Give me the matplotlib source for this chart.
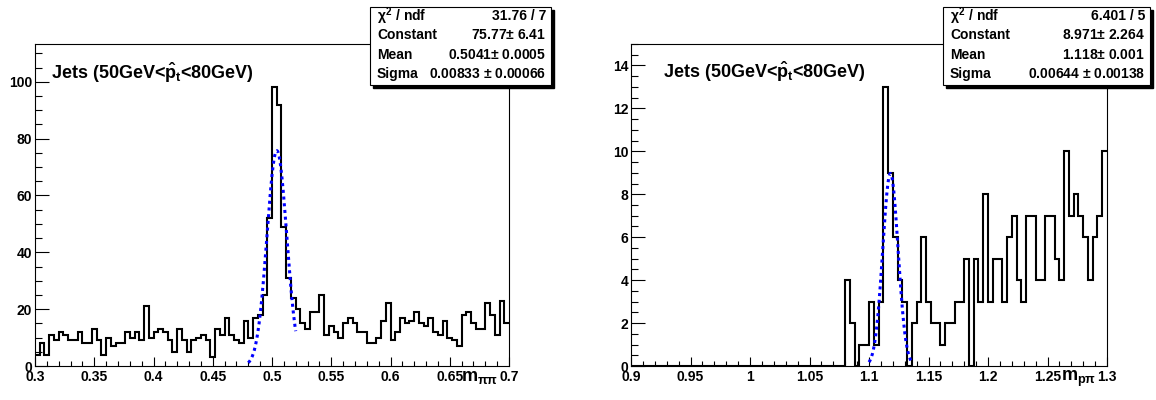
import numpy as np
import matplotlib.pyplot as plt
from matplotlib.patches import Rectangle
from matplotlib.ticker import MultipleLocator

plt.rcParams['font.family'] = ['Liberation Sans', 'DejaVu Sans']
plt.rcParams['font.weight'] = 'bold'
plt.rcParams['mathtext.fontset'] = 'custom'
plt.rcParams['mathtext.rm'] = 'Liberation Sans:bold'
plt.rcParams['mathtext.it'] = 'Liberation Sans:bold'
plt.rcParams['mathtext.bf'] = 'Liberation Sans:bold'
plt.rcParams['mathtext.sf'] = 'Liberation Sans:bold'

# K0s -> pi pi invariant mass, 100 bins 0.3 .. 0.7
kpi_range = (0.3, 0.7)
kpi_counts = [4, 8, 4, 11, 9, 12, 11, 9, 9, 12,
              8, 8, 13, 9, 4, 10, 7, 8, 8, 12,
              10, 12, 9, 21, 10, 12, 13, 12, 9, 5,
              13, 9, 5, 9, 10, 11, 9, 3, 13, 11,
              17, 11, 9, 8, 16, 10, 17, 18, 25, 52,
              98, 92, 49, 31, 24, 20, 15, 13, 19, 19,
              25, 11, 14, 12, 10, 15, 17, 15, 12, 12,
              8, 8, 10, 16, 22, 9, 12, 17, 15, 16,
              19, 15, 14, 17, 12, 11, 16, 10, 9, 7,
              18, 19, 15, 13, 13, 22, 18, 11, 23, 15]
kpi_fit = (75.77, 0.5041, 0.00833)
kpi_fit_range = (0.48, 0.52)

# Lambda -> p pi invariant mass, 100 bins 0.9 .. 1.3
lam_range = (0.9, 1.3)
lam_counts = [0] * 45 + [4, 2, 0, 1, 1,
              3, 1, 3, 13, 9, 6, 4, 3, 0, 2,
              3, 6, 3, 2, 2, 1, 2, 2, 3, 3,
              5, 0, 5, 3, 8, 3, 5, 5, 3, 6,
              7, 4, 3, 7, 7, 4, 4, 7, 7, 5,
              4, 10, 7, 8, 7, 6, 4, 6, 7, 10]
lam_fit = (8.971, 1.118, 0.00644)
lam_fit_range = (1.1, 1.136)

title = r'Jets (50GeV<$\hat{p}_{t}$<80GeV)'
stat_labels = [r'$\chi^{2}$ / ndf', 'Constant', 'Mean', 'Sigma']
kpi_stats = ['31.76 / 7', '75.77$\\pm$ 6.41', '0.5041$\\pm$ 0.0005', '0.00833 $\\pm$ 0.00066']
lam_stats = ['6.401 / 5', '8.971$\\pm$ 2.264', '1.118$\\pm$ 0.001', '0.00644 $\\pm$ 0.00138']

W, H = 1156, 400
fig = plt.figure(figsize=(W / 100, H / 100), dpi=100)


def fx(px):
    return px / W


def fy(py):
    return 1 - py / H


def panel(x0, x1, counts, rng, fit, frange, ymax, ymaj, ymin, xlab):
    ax = fig.add_axes([fx(x0), fy(366), fx(x1 - x0), (366 - 44) / H])
    edges = np.linspace(rng[0], rng[1], len(counts) + 1)
    ax.stairs(counts, edges, color='k', lw=1.5, baseline=None)
    c, m, s = fit
    xf = np.linspace(frange[0], frange[1], 200)
    ax.plot(xf, c * np.exp(-0.5 * ((xf - m) / s) ** 2), color='#0000ff',
            lw=2.2, linestyle=(0, (1, 1.2)))
    ax.set_xlim(rng)
    ax.set_ylim(0, ymax)
    ax.xaxis.set_major_locator(MultipleLocator(0.05))
    ax.xaxis.set_minor_locator(MultipleLocator(0.01))
    ax.yaxis.set_major_locator(MultipleLocator(ymaj))
    ax.yaxis.set_minor_locator(MultipleLocator(ymin))
    ax.tick_params(axis='x', which='major', direction='in', length=6.5, width=0.8, labelsize=10, pad=3)
    ax.tick_params(axis='x', which='minor', direction='in', length=3.3, width=0.8)
    ax.tick_params(axis='y', which='major', direction='in', length=10, width=0.8, labelsize=10, pad=2)
    ax.tick_params(axis='y', which='minor', direction='in', length=5, width=0.8)
    ax.tick_params(top=False, right=False, which='both')
    for t in ax.get_xticklabels() + ax.get_yticklabels():
        t.set_fontweight('bold')
    ax.xaxis.set_major_formatter(plt.FuncFormatter(lambda v, p: ('%.2f' % v).rstrip('0').rstrip('.')))
    for sp in ax.spines.values():
        sp.set_linewidth(0.8)
    ax.text(0.978, -0.01, xlab, transform=ax.transAxes, ha='right', va='top', fontsize=13)
    return ax


panel(35, 509, kpi_counts, kpi_range, kpi_fit, kpi_fit_range, 113.3, 20, 5, r'$\mathrm{m_{\pi\pi}}$')
panel(631, 1107, lam_counts, lam_range, lam_fit, lam_fit_range, 15.0, 2, 0.5, r'$\mathrm{m_{p\pi}}$')

fig.text(fx(51), fy(79), title, fontsize=13, va='baseline')
fig.text(fx(663), fy(78), title, fontsize=13, va='baseline')


def stat_box(x0, x1, values):
    y0, y1 = 7, 85
    fig.add_artist(Rectangle((fx(x0 + 3), fy(y1 + 3)), fx(x1 - x0), (y1 - y0) / H,
                             transform=fig.transFigure, facecolor='k', edgecolor='k', zorder=5))
    fig.add_artist(Rectangle((fx(x0), fy(y1)), fx(x1 - x0), (y1 - y0) / H,
                             transform=fig.transFigure, facecolor='white', edgecolor='k',
                             lw=0.8, zorder=6))
    for i, (lab, val) in enumerate(zip(stat_labels, values)):
        yy = fy(16 + i * 19.3)
        fig.text(fx(x0 + 7), yy, lab, fontsize=10, va='center', ha='left', zorder=7)
        fig.text(fx(x1 - 5), yy, val, fontsize=10, va='center', ha='right', zorder=7)


stat_box(370, 551, kpi_stats)
stat_box(943, 1150, lam_stats)

fig.savefig('out.png', dpi=100)
